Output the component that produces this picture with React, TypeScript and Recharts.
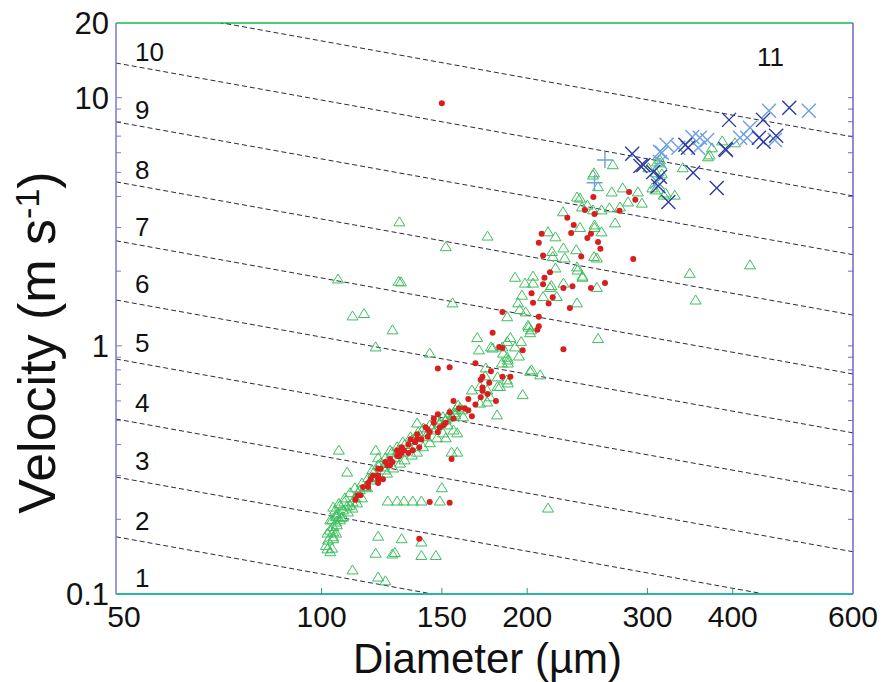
import React from "react";
import { ReferenceLine, Scatter, ScatterChart, XAxis, YAxis } from "recharts";

const FONT = "'Liberation Sans', Arial, Helvetica, sans-serif";

const xTicks = [50, 100, 150, 200, 300, 400, 600];
const yTicks = [0.1, 0.2, 0.3, 0.4, 0.5, 0.6, 0.7, 0.8, 0.9, 1, 2, 3, 4, 5, 6, 7, 8, 9, 10, 20];
const yLabelTicks = [0.1, 1, 10, 20];

// class boundary lines: velocity at D = 50 µm and at D = 600 µm
const classLineLeft = [0.17, 0.296, 0.507, 0.885, 1.53, 2.65, 4.58, 7.99, 13.8, 23.9];
const classLineRight = [0.0494, 0.0862, 0.148, 0.258, 0.446, 0.77, 1.33, 2.33, 4.02, 6.95];

const classNames = ["1", "2", "3", "4", "5", "6", "7", "8", "9", "10", "11"];
const classLabelD = [53.3, 53.3, 53.3, 53.3, 53.3, 53.3, 53.3, 53.3, 53.3, 53.3, 434];
const classLabelV = [0.1166, 0.197, 0.344, 0.591, 1.03, 1.78, 3.02, 5.12, 8.93, 15.35, 14.55];

// [diameter µm, velocity m/s]
const greenTriangles: [number, number][] = [
  [104, 0.224], [106, 0.232], [108, 0.235], [105, 0.208], [107, 0.203], [103, 0.199], [104, 0.187], [104, 0.178],
  [105, 0.176], [104, 0.167], [102, 0.152], [103, 0.148], [121, 0.171], [131, 0.167], [140, 0.162], [120, 0.146],
  [128, 0.147], [127, 0.145], [140, 0.143], [147, 0.143], [111, 0.125], [121, 0.117], [124, 0.113],
  [125, 0.237], [129, 0.237], [132, 0.237], [136, 0.237], [140, 0.237], [149, 0.237], [150, 0.268],
  [138, 0.489], [152, 0.426], [155, 0.373], [158, 0.373], [106, 0.38], [109, 0.31], [120, 0.38], [121, 0.354], [122, 0.337],
  [119, 0.307], [118, 0.288], [116, 0.271], [113, 0.256], [112, 0.244], [111, 0.235], [109, 0.226], [107.5, 0.218],
  [106, 0.212], [105, 0.205], [103.6, 0.199], [102, 0.176], [104, 0.17], [103.6, 0.153],
  [126, 0.38], [129, 0.392], [131.5, 0.41], [135, 0.43], [138.5, 0.45], [141, 0.467], [144, 0.48], [147.6, 0.503],
  [150.6, 0.518], [154, 0.537], [157, 0.552], [153, 0.48], [156, 0.458], [158, 0.446],
  [123, 0.325], [124.7, 0.341], [120.5, 0.297], [116.6, 0.268], [114.6, 0.244], [112.7, 0.233], [111, 0.222],
  [109.3, 0.214], [107.5, 0.205], [106.4, 0.199], [105.3, 0.19],
  [124.7, 0.307], [127.3, 0.322], [130.3, 0.337], [132.3, 0.347], [135.6, 0.363], [137.9, 0.373], [140.8, 0.392],
  [144.1, 0.407], [147.6, 0.426], [150.6, 0.446],
  [128, 0.354], [124, 0.316], [118.5, 0.294], [113.8, 0.263], [110, 0.228], [132, 0.373], [137, 0.392], [142, 0.43],
  [146.6, 0.458], [152, 0.503], [134.7, 0.388],
  [104.7, 0.218], [106.4, 0.228], [108.2, 0.244], [110.1, 0.256], [111.9, 0.268], [114.6, 0.28], [117, 0.294],
  [118.6, 0.316], [121, 0.331], [124, 0.354], [126.8, 0.373], [129.4, 0.38], [132.3, 0.4], [135.6, 0.418],
  [138.5, 0.426], [141.8, 0.45], [145.1, 0.467], [149.1, 0.489], [152.7, 0.513], [156.9, 0.527], [159.5, 0.563],
  [102.2, 0.165], [102.9, 0.181], [105, 0.195], [101.5, 0.157],
  [120, 0.99], [144, 0.935], [127, 1.16],
  [192, 1.89], [204, 1.91], [198.5, 1.79], [204, 1.79], [217, 1.75], [226, 1.79], [196.5, 1.6], [211, 1.58], [221, 1.58],
  [194, 1.49], [199, 1.37], [187, 1.31], [201, 1.19], [202.6, 1.16], [169, 1.08], [170, 0.963], [177, 0.99], [187, 1.04],
  [189, 1.08], [184, 0.99], [192, 0.99], [196, 1.04], [187, 0.9], [194.5, 0.91], [187.4, 0.853], [155.5, 1.49],
  [174, 0.815], [173.6, 0.757], [181, 0.75], [203, 0.8], [209, 0.764], [181, 0.686], [187.4, 0.709], [197, 0.636],
  [170.6, 0.686], [166, 0.664], [176.4, 0.623], [174.8, 0.594], [170.6, 0.588], [180.7, 0.527], [158.5, 0.577],
  [160.6, 0.552], [156.9, 0.537], [155.3, 0.518], [161.2, 0.518], [130.7, 1.81],
  [216, 1.72], [220, 2.06], [226, 2.48], [217.5, 2.4], [236, 2.44], [227, 2.26], [241, 1.89], [250.6, 2.29], [220, 2.75],
  [214.6, 2.88], [251, 3.0], [257, 2.88], [239, 3.0], [236.6, 2.08], [200.6, 1.21], [202, 1.13], [195, 1.4], [178, 0.98],
  [184.4, 0.935], [187.4, 0.877], [183.7, 0.853], [186.8, 0.729], [182.5, 0.686], [174.8, 0.664],
  [267, 5.37], [250.6, 4.98], [254, 4.38], [236.6, 3.98], [245, 3.69], [266, 4.17], [276, 4.33], [290.5, 4.17],
  [294.5, 3.76], [281, 3.8], [264, 3.6], [273.5, 3.63], [257, 3.53], [249.7, 3.53], [225.7, 3.47], [269, 3.13],
  [218, 2.29], [253, 2.26], [241, 1.91], [237, 2.02], [253, 1.72], [308, 4.25], [310, 5.51], [313, 5.62],
  [386, 6.7], [403, 6.58], [373, 6.28], [370, 5.88], [313, 5.46], [301, 5.22], [338, 5.22], [315, 4.93], [305, 4.33],
  [319, 4.13], [317, 4.05], [368, 5.78], [249.7, 4.88], [329, 4.05], [239, 3.94], [251, 3.07], [240.6, 3.63], [309, 4.98],
  [130, 3.16], [152, 2.51], [175, 2.77], [105.7, 1.86], [129.7, 1.82], [111, 1.32], [115.4, 1.35], [254, 1.07],
  [236.6, 1.49], [202, 0.79], [346, 1.96], [353, 1.53], [424, 2.12], [214.6, 0.222],
];

const redDots: [number, number][] = [
  [282, 4.17], [288, 3.88], [250, 3.98], [243, 3.53], [251, 3.4], [273, 3.5], [229, 3.28], [234, 3.07], [232, 2.85],
  [248, 2.83], [245, 2.72], [210, 2.83], [254, 2.62], [208, 2.6], [256, 2.46], [211, 2.31], [240, 2.29], [286, 2.24],
  [216, 1.98], [212, 1.88], [211, 1.77], [226, 1.71], [233, 1.74], [248, 1.71], [260, 1.79], [203, 1.63], [204, 1.49],
  [218, 1.57], [215, 1.48], [208, 1.31], [208, 1.2], [207, 1.16], [231, 1.42], [184, 1.37], [178, 1.13], [226, 0.97],
  [197, 0.96], [184, 0.98], [182, 0.99], [168, 0.85], [154, 0.82], [148, 0.81], [177, 0.79], [184, 0.75], [189, 0.75],
  [172, 0.75], [171, 0.73], [176, 0.71], [172, 0.68], [175, 0.64], [171, 0.62], [172, 0.66], [180, 0.6], [164, 0.61],
  [168, 0.58], [156, 0.6], [162, 0.56], [159, 0.56], [166, 0.52], [164, 0.55], [154, 0.54], [148, 0.53], [156, 0.51],
  [146, 0.51], [146, 0.49], [151, 0.48], [142, 0.47], [148, 0.45], [144, 0.45], [138, 0.44], [143, 0.43], [138, 0.42],
  [137, 0.41], [139, 0.39], [134, 0.4], [132, 0.38], [134, 0.37], [131, 0.37], [129, 0.36], [126, 0.35], [127, 0.34],
  [126, 0.33], [125, 0.33], [121, 0.32], [119, 0.3], [121, 0.29], [123, 0.29], [121, 0.28], [117, 0.27], [115, 0.27],
  [114, 0.25], [112, 0.24], [155, 0.35], [144, 0.235], [154, 0.233], [139, 0.167], [130, 0.36], [140, 0.42], [113, 0.25],
  [117, 0.28], [121, 0.3], [122, 0.32], [136, 0.38], [137, 0.41], [149, 0.47], [152, 0.49], [150, 9.5],
  [129, 0.38], [124, 0.34], [118, 0.29], [143, 0.46], [135, 0.42], [131, 0.39],
];

const darkBlueCrosses: [number, number][] = [
  [484, 9.1], [395, 8.14], [443, 8.14], [463, 7.02], [437, 6.89], [444, 6.64], [341, 6.46], [344, 6.28], [391, 6.16],
  [296, 5.36], [306, 5.02], [313, 4.8], [311, 4.41], [350, 4.98], [379, 4.33], [322, 3.8], [285, 5.94], [293, 5.31],
  [390, 6.22],
];

const lightBlueCrosses: [number, number][] = [
  [517, 8.85], [452, 8.85], [424, 7.56], [420, 6.89], [410, 6.89], [461, 6.76], [349, 6.95], [358, 6.89], [367, 6.76],
  [333, 6.28], [356, 6.28], [320, 6.46], [315, 6.0], [313, 5.51], [310, 4.58], [313, 6.05],
];

const lightBluePluses: [number, number][] = [
  [260, 5.61], [251, 4.54],
];

const toPoints = (rows: [number, number][]) => rows.map(([d, v]) => ({ d, v }));

function Triangle(props: any) {
  const { cx, cy } = props;
  return (
    <polygon
      points={`${cx},${cy - 5} ${cx - 5.5},${cy + 4} ${cx + 5.5},${cy + 4}`}
      fill="none"
      stroke="#3dbf5e"
      strokeWidth={1}
    />
  );
}

function RedDot(props: any) {
  return <circle cx={props.cx} cy={props.cy} r={3} fill="#d81e1e" />;
}

function makeCross(color: string) {
  return (props: any) => {
    const { cx, cy } = props;
    const s = 7;
    return (
      <path d={`M${cx - s},${cy - s}L${cx + s},${cy + s}M${cx - s},${cy + s}L${cx + s},${cy - s}`} stroke={color} strokeWidth={1.4} fill="none" />
    );
  };
}

function Plus(props: any) {
  const { cx, cy } = props;
  const s = 8;
  return <path d={`M${cx - s},${cy}L${cx + s},${cy}M${cx},${cy - s}L${cx},${cy + s}`} stroke="#6f9fe0" strokeWidth={1.4} fill="none" />;
}

function ClassLabel(props: any) {
  return (
    <text x={props.cx} y={props.cy} dy="0.35em" fontSize={26} fontFamily={FONT} fill="#111">
      {props.payload.name}
    </text>
  );
}

function XTick(props: any) {
  const { x, y, payload } = props;
  const v = payload.value;
  const inner = v !== 50 && v !== 600;
  return (
    <g>
      {inner && <line x1={x} x2={x} y1={y} y2={y - 6} stroke="#2a9d6a" />}
      <text x={v === 50 ? x + 8 : x} y={y + 33} textAnchor="middle" fontSize={30} fontFamily={FONT} fill="#111">
        {v}
      </text>
    </g>
  );
}

function YTickLeft(props: any) {
  const { x, y, payload } = props;
  const v = payload.value;
  const major = yLabelTicks.includes(v);
  return (
    <g>
      {v !== 0.1 && v !== 20 && <line x1={x} x2={x + (major ? 6 : 5)} y1={y} y2={y} stroke="#7a7ad0" />}
      {major && (
        <text x={x - 7} y={y} dy="0.36em" textAnchor="end" fontSize={31} fontFamily={FONT} fill="#111">
          {v}
        </text>
      )}
    </g>
  );
}

function YTickRight(props: any) {
  const { x, y, payload } = props;
  const v = payload.value;
  if (v === 0.1 || v === 20) return <g />;
  return <line x1={x} x2={x - 5} y1={y} y2={y} stroke="#6f63cc" />;
}

export default function App() {
  const labelData = classNames.map((name, i) => ({ d: classLabelD[i], v: classLabelV[i], name }));

  return (
    <div style={{ position: "absolute", left: 0, top: 0, width: 885, height: 682, background: "#fff" }}>
      <ScatterChart width={885} height={682} margin={{ top: 23, right: 0, bottom: 0, left: 0 }}>
        <XAxis
          dataKey="d"
          type="number"
          scale="log"
          domain={[50, 600]}
          allowDataOverflow
          ticks={xTicks}
          interval={0}
          height={88}
          tickSize={0}
          tickMargin={0}
          tickLine={false}
          tick={<XTick />}
          axisLine={{ stroke: "#2bb5a2", strokeWidth: 2 }}
          label={{
            content: (p: any) => (
              <text
                x={p.viewBox.x + p.viewBox.width / 2 + 3}
                y={p.viewBox.y + 79}
                textAnchor="middle"
                fontSize={42}
                fontFamily={FONT}
                fill="#111"
              >
                Diameter (µm)
              </text>
            ),
          }}
        />
        <YAxis
          dataKey="v"
          type="number"
          scale="log"
          domain={[0.1, 20]}
          allowDataOverflow
          ticks={yTicks}
          interval={0}
          width={116}
          tickSize={0}
          tickMargin={0}
          tickLine={false}
          tick={<YTickLeft />}
          axisLine={{ stroke: "#7a7ad0", strokeWidth: 1.5 }}
          label={{
            content: (p: any) => {
              const cy = p.viewBox.y + p.viewBox.height / 2 + 34;
              return (
                <text
                  transform={`translate(55 ${cy}) rotate(-90)`}
                  textAnchor="middle"
                  fontSize={52}
                  fontFamily={FONT}
                  fill="#111"
                >
                  Velocity (m s
                  <tspan dy={-16} fontSize={34}>-1</tspan>
                  <tspan dy={16}>)</tspan>
                </text>
              );
            },
          }}
        />
        <YAxis
          yAxisId="right"
          orientation="right"
          type="number"
          scale="log"
          domain={[0.1, 20]}
          allowDataOverflow
          ticks={yTicks}
          interval={0}
          width={32}
          tickSize={0}
          tickMargin={0}
          tickLine={false}
          tick={<YTickRight />}
          axisLine={{ stroke: "#6f63cc", strokeWidth: 1.5 }}
        />
        <ReferenceLine y={20} stroke="#4dcf7a" strokeWidth={2} />
        {classLineLeft.map((v, i) => (
          <ReferenceLine
            key={i}
            segment={[
              { x: 50, y: v },
              { x: 600, y: classLineRight[i] },
            ]}
            stroke="#2b2b3b"
            strokeWidth={1}
            strokeDasharray="5 3"
            ifOverflow="hidden"
          />
        ))}
        <Scatter data={toPoints(greenTriangles)} shape={Triangle} isAnimationActive={false} />
        <Scatter data={toPoints(redDots)} shape={RedDot} isAnimationActive={false} />
        <Scatter data={toPoints(lightBlueCrosses)} shape={makeCross("#6f9fe0")} isAnimationActive={false} />
        <Scatter data={toPoints(lightBluePluses)} shape={Plus} isAnimationActive={false} />
        <Scatter data={toPoints(darkBlueCrosses)} shape={makeCross("#2e3b9e")} isAnimationActive={false} />
        <Scatter data={labelData} shape={ClassLabel} isAnimationActive={false} />
      </ScatterChart>
    </div>
  );
}
